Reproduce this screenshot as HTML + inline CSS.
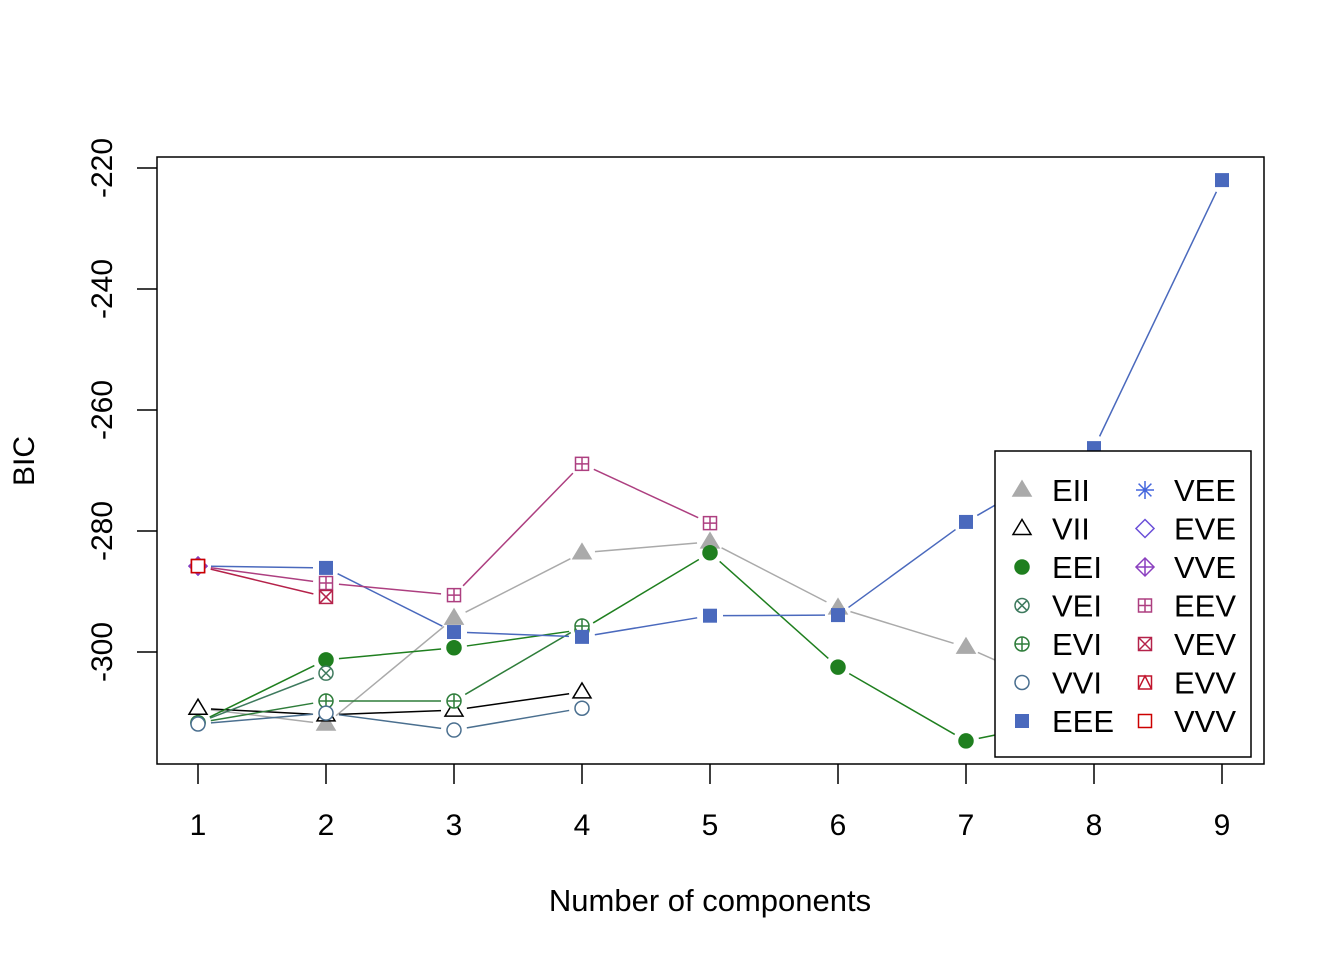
<!DOCTYPE html>
<html><head><meta charset="utf-8"><style>
html,body{margin:0;padding:0;background:#fff;}
svg{display:block;font-family:"Liberation Sans",Arial,sans-serif;}
</style></head><body>
<svg id="chart" width="1344" height="960" viewBox="0 0 1344 960">
<rect x="157" y="157" width="1107" height="607" fill="none" stroke="#000" stroke-width="1.5"/>
<g id="axes"></g>
<g id="series"></g>
<text x="710" y="911" font-size="31" text-anchor="middle">Number of components</text>
<text transform="translate(34,461) rotate(-90)" font-size="30" text-anchor="middle">BIC</text>
<g id="legend"></g>
</svg>
<script>
const components = [1,2,3,4,5,6,7,8,9];
const yTicks = [-300,-280,-260,-240,-220];
const modelNames = ["EII","VII","EEI","VEI","EVI","VVI","EEE","VEE","EVE","VVE","EEV","VEV","EVV","VVV"];
const modelColors = ["#aaaaaa","#000000","#1f7f1f","#3e7a5e","#2e7d3a","#4a6f8f","#4a69bd","#4466dd","#6a4fd8","#8a3fbf","#ad3f80","#b5224a","#c0142c","#cc0000"];
const modelSymbols = ["triF","tri","circF","circX","circP","circ","sqF","ast","dia","diaP","sqP","sqX","sqT","sq"];
const bicEII = [-309.3,-311.9,-294.4,-283.6,-281.8,-292.7,-299.2,-308.6,-305];
const bicVII = [-309.3,-310.4,-309.6,-306.6,null,null,null,null,null];
const bicEEI = [-311.7,-301.3,-299.3,-296.3,-283.6,-302.5,-314.7,-310.4,null];
const bicVEI = [-311.7,-303.5,null,null,null,null,null,null,null];
const bicEVI = [-311.7,-308.1,-308.1,-295.7,null,null,null,null,null];
const bicVVI = [-311.9,-310.1,-312.9,-309.3,null,null,null,null,null];
const bicEEE = [-285.8,-286.1,-296.7,-297.5,-294.0,-293.9,-278.5,-266.3,-222.0];
const bicVEE = [-285.8,null,null,null,null,null,null,null,null];
const bicEVE = [-285.8,null,null,null,null,null,null,null,null];
const bicVVE = [-285.8,null,null,null,null,null,null,null,null];
const bicEEV = [-285.8,-288.6,-290.6,-268.9,-278.7,null,null,null,null];
const bicVEV = [-285.8,-290.9,null,null,null,null,null,null,null];
const bicEVV = [-285.8,null,null,null,null,null,null,null,null];
const bicVVV = [-285.8,null,null,null,null,null,null,null,null];
const allSeries = [bicEII,bicVII,bicEEI,bicVEI,bicEVI,bicVVI,bicEEE,bicVEE,bicEVE,bicVVE,bicEEV,bicVEV,bicEVV,bicVVV];

const NS="http://www.w3.org/2000/svg";
const xS = v => 198 + (v-1)*128;
const yS = v => 168 + (-220 - v)/20*121;
function mk(tag, attrs, parent){const e=document.createElementNS(NS,tag);for(const k in attrs)e.setAttribute(k,attrs[k]);parent.appendChild(e);return e;}

const axes=document.getElementById('axes');
components.forEach(c=>{
  const g=mk('g',{},axes);
  
  
  mk('line',{x1:xS(c),x2:xS(c),y1:764,y2:784,stroke:'#000','stroke-width':1.5},g);
  const t=mk('text',{x:xS(c),y:835,'font-size':30,'text-anchor':'middle'},g);t.textContent=c;
});
yTicks.forEach(v=>{
  const g=mk('g',{},axes);
  
  
  mk('line',{x1:137,x2:157,y1:yS(v),y2:yS(v),stroke:'#000','stroke-width':1.5},g);
  const t=mk('text',{transform:`translate(112,${yS(v)}) rotate(-90)`,'font-size':30,'text-anchor':'middle'},g);t.textContent=v;
});

function symbol(type,x,y,col,parent){
  const g=mk('g',{stroke:col,fill:'none','stroke-width':1.5},parent);
  const r=7;
  if(type==='triF'||type==='tri'){mk('polygon',{points:`${x},${y-9} ${x-9},${y+6} ${x+9},${y+6}`,fill:type==='triF'?col:'#fff'},g);}
  else if(type==='circF'){mk('circle',{cx:x,cy:y,r:r,fill:col},g);}
  else if(type.startsWith('circ')){mk('circle',{cx:x,cy:y,r:r,fill:'#fff'},g);
    if(type==='circX'){const d=r*0.707;mk('path',{d:`M${x-d},${y-d}L${x+d},${y+d}M${x-d},${y+d}L${x+d},${y-d}`},g);}
    if(type==='circP'){mk('path',{d:`M${x-r},${y}H${x+r}M${x},${y-r}V${y+r}`},g);}}
  else if(type==='sqF'){mk('rect',{x:x-7,y:y-7,width:14,height:14,fill:col,stroke:'none'},g);}
  else if(type.startsWith('sq')){const s=6.5;mk('rect',{x:x-s,y:y-s,width:2*s,height:2*s,fill:'#fff'},g);
    if(type==='sqP')mk('path',{d:`M${x-s},${y}H${x+s}M${x},${y-s}V${y+s}`},g);
    if(type==='sqX')mk('path',{d:`M${x-s},${y-s}L${x+s},${y+s}M${x-s},${y+s}L${x+s},${y-s}`},g);
    if(type==='sqT')mk('path',{d:`M${x-s},${y+s}L${x},${y-s}L${x+s},${y+s}`},g);}
  else if(type==='ast'){const r2=9;mk('path',{d:`M${x-r2},${y}H${x+r2}M${x},${y-r2}V${y+r2}M${x-6.4},${y-6.4}L${x+6.4},${y+6.4}M${x-6.4},${y+6.4}L${x+6.4},${y-6.4}`},g);}
  else if(type==='dia'||type==='diaP'){const r2=9;mk('polygon',{points:`${x},${y-r2} ${x+r2},${y} ${x},${y+r2} ${x-r2},${y}`,fill:'#fff'},g);
    if(type==='diaP')mk('path',{d:`M${x-r2},${y}H${x+r2}M${x},${y-r2}V${y+r2}`},g);}
  return g;
}

const ser=document.getElementById('series');
allSeries.forEach((vals,i)=>{
  const g=mk('g',{},ser);
  
  
  const col=modelColors[i];
  for(let k=0;k<vals.length-1;k++){
    if(vals[k]==null||vals[k+1]==null)continue;
    const x1=xS(components[k]),y1=yS(vals[k]),x2=xS(components[k+1]),y2=yS(vals[k+1]);
    const dx=x2-x1,dy=y2-y1,L=Math.hypot(dx,dy),gap=13;
    if(L<=2*gap)continue;
    mk('line',{x1:x1+dx/L*gap,y1:y1+dy/L*gap,x2:x2-dx/L*gap,y2:y2-dy/L*gap,stroke:col,'stroke-width':1.5},g);
  }
  vals.forEach((v,k)=>{ if(v==null)return;
    const s=symbol(modelSymbols[i],xS(components[k]),yS(v),col,g);
    
    
  });
});

const leg=document.getElementById('legend');


mk('rect',{x:995,y:451,width:256,height:306,fill:'#fff',stroke:'#000','stroke-width':1.5},leg);
modelNames.forEach((n,i)=>{
  const col=Math.floor(i/7),row=i%7;
  const y=490+row*38.5;
  const g=mk('g',{},leg);
  
  
  symbol(modelSymbols[i],col?1145:1022,y,modelColors[i],g);
  const t=mk('text',{x:col?1174:1052,y:y+11,'font-size':31},g);t.textContent=n;
});
</script>
</body></html>
